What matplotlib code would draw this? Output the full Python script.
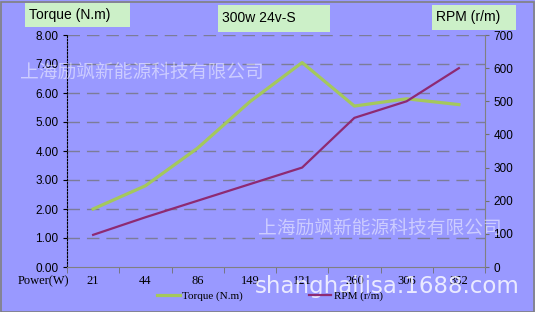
import matplotlib
matplotlib.use("Agg")
import matplotlib.pyplot as plt
from matplotlib.patches import Rectangle
import numpy as np

power_labels = ["21", "44", "86", "149", "121", "260", "306", "352"]
torque = [2.0, 2.8, 4.1, 5.7, 7.05, 5.55, 5.8, 5.6]
rpm = [97, 150, 200, 250, 300, 450, 500, 600]
torque_ticks = [0, 1, 2, 3, 4, 5, 6, 7, 8]
rpm_ticks = [0, 100, 200, 300, 400, 500, 600, 700]

BG = "#9999FF"
GREEN = "#A4C85C"
PURPLE = "#8E2A72"
BOX = "#CCF0C8"

fig = plt.figure(figsize=(5.35, 3.12), dpi=100, facecolor=BG)
ax = fig.add_axes([67/535, 1-267/312, (485-67)/535, (267-35)/312])
ax.set_facecolor(BG)
ax2 = ax.twinx()

x = np.arange(len(power_labels))
l1, = ax.plot(x, torque, color=GREEN, lw=2.3, label="Torque (N.m)", zorder=3)
l2, = ax2.plot(x, rpm, color=PURPLE, lw=1.6, label="RPM (r/m)", zorder=3)

ax.set_xlim(-0.5, len(power_labels) - 0.5)
ax.set_ylim(0, 8)
ax2.set_ylim(0, 700)

ax.set_yticks(torque_ticks)
ax.set_yticklabels([f"{v:.2f}" for v in torque_ticks], fontsize=8.5, family="Liberation Sans")
ax2.set_yticks(rpm_ticks)
ax2.set_yticklabels([str(v) for v in rpm_ticks], fontsize=8.5, family="Liberation Sans")

ax.set_xticks(x)
ax.set_xticklabels(power_labels, fontsize=9, family="Liberation Serif")
ax.set_xticks(np.arange(-0.5, len(power_labels)), minor=True)
ax.tick_params(axis="x", which="major", length=0, pad=6)
ax.tick_params(axis="x", which="minor", length=4, color="#707070")
ax.tick_params(axis="y", length=3, color="black", pad=3)
ax2.tick_params(axis="y", length=3, color="#707070", pad=3)

for v in torque_ticks[1:]:
    ax.axhline(v, color="#7c7c98", lw=1.0, ls=(0, (9, 5)), zorder=1)

for a in (ax, ax2):
    a.spines["top"].set_visible(False)
ax.spines["left"].set_linestyle((0, (1.5, 1.5)))
ax.spines["left"].set_color("black")
ax2.spines["left"].set_visible(False)
ax.spines["right"].set_visible(False)
ax2.spines["right"].set_color("#808080")
ax.spines["bottom"].set_color("#808080")
ax2.spines["bottom"].set_visible(False)

fig.text(18/535, 1-281/312, "Power(W)", fontsize=9, family="Liberation Serif", va="center")

def box(xc, yc, w, h, s):
    fig.patches.append(Rectangle((xc/535, 1-(yc+h)/312), w/535, h/312,
                                 transform=fig.transFigure, facecolor=BOX, edgecolor="none"))
    fig.text((xc+4)/535, 1-(yc+h/2)/312, s, fontsize=10, family="Liberation Sans", va="center")

box(25, 3, 105, 24, "Torque (N.m)")
box(218, 5, 112, 27, "300w 24v-S")
box(432, 5, 84, 25, "RPM (r/m)")

fig.legend([l1, l2], ["Torque (N.m)", "RPM (r/m)"], loc="center",
           bbox_to_anchor=(270/535, 1-296/312), ncol=2, frameon=False,
           handlelength=2.0, columnspacing=6.0, handletextpad=0.2,
           prop={"family": "Liberation Serif", "size": 8})

fig.text(20/535, 1-72/312, "上海励飒新能源科技有限公司", fontsize=13.5,
         family=["Noto Sans CJK SC", "DejaVu Sans"], color="white", alpha=0.5, va="center")
fig.text(258/535, 1-228/312, "上海励飒新能源科技有限公司", fontsize=13.5,
         family=["Noto Sans CJK SC", "DejaVu Sans"], color="white", alpha=0.5, va="center")
fig.text(255/535, 1-286/312, "shanghailisa.1688.com", fontsize=16.5,
         family="DejaVu Sans", color="white", alpha=0.8, va="center")

fig.patches.append(Rectangle((0.5/535, 0.5/312), 533/535, 310/312, transform=fig.transFigure,
                             facecolor="none", edgecolor="#808080", lw=1.2))

fig.savefig("out.png", dpi=100, facecolor=BG)
